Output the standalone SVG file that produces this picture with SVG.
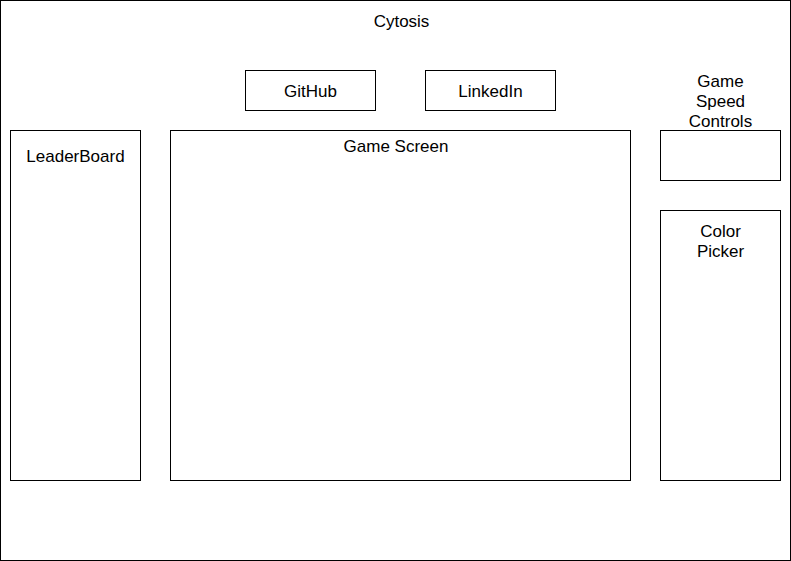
<svg xmlns="http://www.w3.org/2000/svg" width="791" height="561" viewBox="0 0 791 561">
<style>
rect{fill:#fff;stroke:#000;stroke-width:1}
text{font-family:"Liberation Sans",Arial,sans-serif;font-size:17px;fill:#000;text-anchor:middle}
</style>
<g id="page"><rect x="0.5" y="0.5" width="790" height="560"/><text x="401.5" y="27">Cytosis</text></g>
<g id="github"><rect x="245.5" y="70.5" width="130" height="40"/><text x="310.5" y="97">GitHub</text></g>
<g id="linkedin"><rect x="425.5" y="70.5" width="130" height="40"/><text x="490.5" y="97">LinkedIn</text></g>
<g id="leaderboard"><rect x="10.5" y="130.5" width="130" height="350"/><text x="75.5" y="162">LeaderBoard</text></g>
<g id="gamescreen"><rect x="170.5" y="130.5" width="460" height="350"/><text x="396" y="152">Game Screen</text></g>
<g id="speed"><rect x="660.5" y="130.5" width="120" height="50"/><text x="720.5" y="87">Game</text><text x="720.5" y="107">Speed</text><text x="720.5" y="127">Controls</text></g>
<g id="colorpicker"><rect x="660.5" y="210.5" width="120" height="270"/><text x="720.5" y="237">Color</text><text x="720.5" y="257">Picker</text></g>
<g id="connectors"></g>
</svg>
